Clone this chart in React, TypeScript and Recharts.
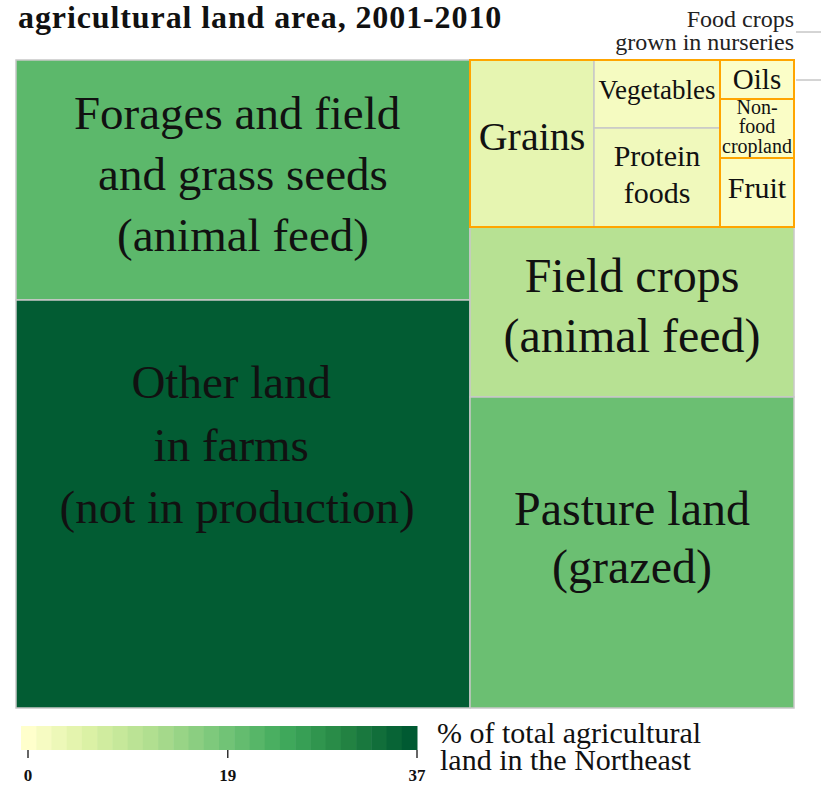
import { Treemap } from "recharts"

// land use shares, % of total agricultural land in the Northeast
const feedOtherNames = ["Forages and field \nand grass seeds\n(animal feed)", "Other land  \nin farms  \n(not in production) "]
const feedOtherValues = [21.6, 36.7]

const grainNames = ["Grains"]
const grainValues = [4.1]

const midFoodNames = ["Vegetables", "Protein\nfoods"]
const midFoodValues = [1.7, 2.48]

const sideFoodNames = ["Oils", "Non-\nfood\ncropland", "Fruit"]
const sideFoodValues = [0.57, 0.87, 1.02]

const cropPastureNames = ["Field crops\n(animal feed)", "Pasture land\n(grazed)"]
const cropPastureValues = [10.9, 20.0]

const legendTicks = [0, 19, 37]
const MAX_PCT = 37
const LEGEND_STEPS = 26

const YLGN = ["#ffffcc", "#d9f0a3", "#addd8e", "#78c679", "#41ab5d", "#238443", "#005a32"]
const FONT = "'Liberation Serif', 'DejaVu Serif', serif"

function hexToRgb(h: string) {
    const n = parseInt(h.slice(1), 16)
    return [(n >> 16) & 255, (n >> 8) & 255, n & 255]
}

function colorFor(v: number) {
    const t = Math.max(0, Math.min(1, v / MAX_PCT)) * (YLGN.length - 1)
    const i = Math.min(Math.floor(t), YLGN.length - 2)
    const f = t - i
    const a = hexToRgb(YLGN[i])
    const b = hexToRgb(YLGN[i + 1])
    const c = a.map((x, k) => Math.round(x + (b[k] - x) * f))
    return `rgb(${c[0]},${c[1]},${c[2]})`
}

const leaves = (names: string[], values: number[], extra = {}) =>
    names.map((name, i) => ({ name, value: values[i], ...extra }))

const treeData = [
    { name: "feed-other", children: leaves(feedOtherNames, feedOtherValues) },
    {
        name: "crops-pasture",
        children: [
            {
                name: "food",
                frame: true,
                children: [
                    ...leaves(grainNames, grainValues),
                    { name: "mid", children: leaves(midFoodNames, midFoodValues) },
                    { name: "side", children: leaves(sideFoodNames, sideFoodValues, { frame: true }) },
                ],
            },
            ...leaves(cropPastureNames, cropPastureValues),
        ],
    },
]

// label look per tile: font size, line step, baseline offset of the middle line from tile centre
const labelStyle: Record<string, { size: number; lh: number; dy: number }> = {
    [feedOtherNames[0]]: { size: 47, lh: 61, dy: 9.5 },
    [feedOtherNames[1]]: { size: 47, lh: 62.5, dy: -43.5 },
    [cropPastureNames[0]]: { size: 48, lh: 60, dy: 10 },
    [cropPastureNames[1]]: { size: 48, lh: 58, dy: 1.5 },
    Grains: { size: 40, lh: 40, dy: 6.5 },
    Vegetables: { size: 27, lh: 28, dy: 5 },
    [midFoodNames[1]]: { size: 30, lh: 37, dy: 7 },
    Oils: { size: 29, lh: 30, dy: 9.5 },
    [sideFoodNames[1]]: { size: 20, lh: 19.5, dy: 4.5 },
    Fruit: { size: 30, lh: 30, dy: 5.5 },
}

function Tile(props: any) {
    const { x, y, width, height, children, name, value } = props
    if (children && children.length) return <g />
    const st = labelStyle[name] ?? { size: 20, lh: 22, dy: 0 }
    const lines = String(name).split("\n")
    const cx = x + width / 2
    const cy = y + height / 2 + st.dy
    return (
        <g>
            <rect x={x} y={y} width={width} height={height} fill={colorFor(value)} stroke="#c8c8c8" strokeWidth={1.5} />
            {lines.map((ln, i) => (
                <text
                    key={i}
                    x={cx}
                    y={cy + (i - (lines.length - 1) / 2) * st.lh}
                    textAnchor="middle"
                    fontFamily={FONT}
                    fontSize={st.size}
                    fill="#111"
                    style={{ whiteSpace: "pre" }}
                >
                    {ln}
                </text>
            ))}
        </g>
    )
}

function Frame(props: any) {
    const { x, y, width, height, frame } = props
    if (!frame) return <g />
    return <rect x={x} y={y} width={width} height={height} fill="none" stroke="#ffa500" strokeWidth={2} />
}

const TM_W = 778
const TM_H = 648

export default function App() {
    const legendX0 = 21
    const legendW = 396
    const stepW = legendW / LEGEND_STEPS
    const tickX = (v: number) => 28 + (v / MAX_PCT) * 389
    return (
        <div style={{ position: "absolute", left: 0, top: 0, width: 821, height: 786, background: "#fff", overflow: "hidden" }}>
            <style>{`.recharts-surface{overflow:visible}`}</style>
            <svg width={821} height={786} style={{ position: "absolute", left: 0, top: 0 }}>
                <text x={18} y={28} fontFamily={FONT} fontWeight="bold" fontSize={32} letterSpacing={0.9} fill="#111">
                    agricultural land area, 2001-2010
                </text>
                <text x={794} y={27} textAnchor="end" fontFamily={FONT} fontSize={24} fill="#222">
                    Food crops
                </text>
                <text x={794} y={50} textAnchor="end" fontFamily={FONT} fontSize={24} fill="#222">
                    grown in nurseries
                </text>
                <line x1={796} x2={821} y1={32} y2={32} stroke="#aaa" strokeWidth={1} />
                <line x1={796} x2={821} y1={80} y2={80} stroke="#aaa" strokeWidth={1} />

                {Array.from({ length: LEGEND_STEPS }, (_, i) => (
                    <rect
                        key={i}
                        x={legendX0 + i * stepW}
                        y={726}
                        width={stepW + 0.5}
                        height={24}
                        fill={colorFor((i / (LEGEND_STEPS - 1)) * MAX_PCT)}
                    />
                ))}
                {legendTicks.map((t) => (
                    <g key={t}>
                        <line x1={tickX(t)} x2={tickX(t)} y1={750} y2={758} stroke="#333" strokeWidth={1.5} />
                        <text x={tickX(t)} y={781} textAnchor="middle" fontFamily={FONT} fontWeight="bold" fontSize={17} fill="#111">
                            {t}
                        </text>
                    </g>
                ))}
                <text x={437} y={743} fontFamily={FONT} fontSize={30} fill="#111">
                    % of total agricultural
                </text>
                <text x={440} y={770} fontFamily={FONT} fontSize={30} fill="#111">
                    land in the Northeast
                </text>
            </svg>
            <div style={{ position: "absolute", left: 16, top: 60 }}>
                <Treemap
                    width={TM_W}
                    height={TM_H}
                    data={treeData}
                    dataKey="value"
                    aspectRatio={0.8}
                    isAnimationActive={false}
                    content={<Tile />}
                />
            </div>
            <div style={{ position: "absolute", left: 16, top: 60, pointerEvents: "none" }}>
                <Treemap
                    width={TM_W}
                    height={TM_H}
                    data={treeData}
                    dataKey="value"
                    aspectRatio={0.8}
                    isAnimationActive={false}
                    content={<Frame />}
                />
            </div>
        </div>
    )
}
